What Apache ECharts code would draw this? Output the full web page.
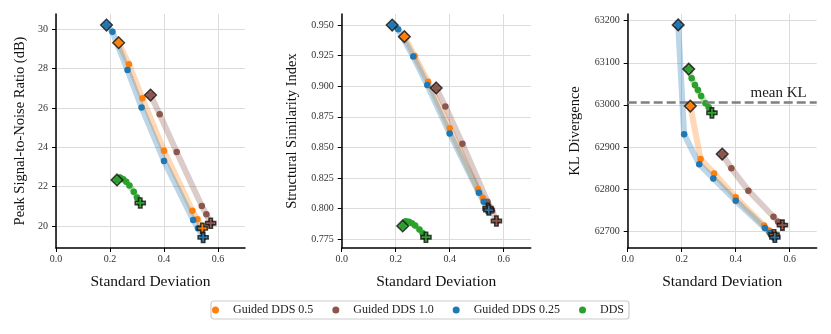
<!DOCTYPE html>
<html><head><meta charset="utf-8">
<script src="https://cdn.jsdelivr.net/npm/echarts@6/dist/echarts.min.js"></script>
<style>html,body{margin:0;padding:0;background:#fff}#c{width:831px;height:334px}</style>
</head><body><div id="c"></div>
<script>
// ---- data ----
const methods = ['Guided DDS 0.5', 'Guided DDS 1.0', 'Guided DDS 0.25', 'DDS'];
const colors = ['#ff7f0e', '#8c564b', '#1f77b4', '#2ca02c'];

const xOrange = [0.232, 0.270, 0.320, 0.400, 0.505, 0.524, 0.542];
const xBrown  = [0.350, 0.384, 0.447, 0.540, 0.557, 0.573];
const xBlue   = [0.187, 0.209, 0.265, 0.317, 0.400, 0.508, 0.526, 0.545];
const xGreen  = [0.226, 0.237, 0.249, 0.260, 0.272, 0.288, 0.300, 0.312];

const psnrOrange = [29.32, 28.22, 26.49, 23.83, 20.78, 20.34, 19.88];
const psnrBrown  = [26.66, 25.68, 23.76, 21.02, 20.59, 20.14];
const psnrBlue   = [30.22, 29.88, 27.93, 26.03, 23.31, 20.31, 19.88, 19.42];
const psnrGreen  = [22.34, 22.47, 22.38, 22.25, 22.06, 21.74, 21.45, 21.17];

const ssimOrange = [0.9405, 0.9248, 0.9037, 0.8656, 0.8158, 0.8085, 0.8003];
const ssimBrown  = [0.8986, 0.8834, 0.8530, 0.8057, 0.7984, 0.7900];
const ssimBlue   = [0.9500, 0.9465, 0.9242, 0.9010, 0.8615, 0.8131, 0.8057, 0.7989];
const ssimGreen  = [0.7859, 0.7897, 0.7893, 0.7882, 0.7862, 0.7830, 0.7800, 0.7767];

const klOrange = [62997, 62871, 62837, 62780, 62713, 62701, 62691];
const klBrown  = [62883, 62849, 62796, 62734, 62722, 62714];
const klBlue   = [63190, 62930, 62859, 62825, 62772, 62707, 62696, 62685];
const klGreen  = [63085, 63063, 63047, 63035, 63021, 63004, 62994, 62981];
const meanKL = 63007;

const xTicks = [0, 0.2, 0.4, 0.6];
const psnrTicks = [20, 22, 24, 26, 28, 30];
const ssimTicks = [0.775, 0.8, 0.825, 0.85, 0.875, 0.9, 0.925, 0.95];
const klTicks = [62700, 62800, 62900, 63000, 63100, 63200];

// ---- build ----
const FONT = '"Liberation Serif", "DejaVu Serif", serif';
const xs = [xOrange, xBrown, xBlue, xGreen];
const panels = [
  {ys: [psnrOrange, psnrBrown, psnrBlue, psnrGreen], name: 'Peak Signal-to-Noise Ratio (dB)', min: 18.88, max: 30.78, ticks: psnrTicks, fmt: v => String(v), gap: 28, left: 56},
  {ys: [ssimOrange, ssimBrown, ssimBlue, ssimGreen], name: 'Structural Similarity Index', min: 0.7679, max: 0.959, ticks: ssimTicks, fmt: v => v.toFixed(3), gap: 42, left: 341.7},
  {ys: [klOrange, klBrown, klBlue, klGreen], name: 'KL Divergence', min: 62659.6, max: 63216, ticks: klTicks, fmt: v => String(v), gap: 45, left: 627.7}
];
const plusPath = 'path://M1,0H2V1H3V2H2V3H1V2H0V1H1Z';

const grids = [], xAxes = [], yAxes = [], series = [];
panels.forEach((p, i) => {
  grids.push({left: p.left, top: 14, width: 189, height: 234});
  xAxes.push({
    type: 'value', gridIndex: i, min: 0, max: 0.7,
    name: 'Standard Deviation', nameLocation: 'middle', nameGap: 26,
    nameTextStyle: {fontFamily: FONT, fontSize: 15.5, color: '#111'},
    axisLine: {show: true, lineStyle: {color: '#000', width: 1.5}},
    axisTick: {show: true, length: 4, customValues: xTicks, lineStyle: {color: '#000', width: 1}},
    axisLabel: {customValues: xTicks, formatter: v => v.toFixed(1), fontFamily: FONT, fontSize: 10, color: '#333', margin: 6},
    splitLine: {show: true, lineStyle: {color: '#dcdcdc', width: 1}}
  });
  yAxes.push({
    type: 'value', gridIndex: i, min: p.min, max: p.max,
    name: p.name, nameLocation: 'middle', nameGap: p.gap, nameRotate: 90,
    nameTextStyle: {fontFamily: FONT, fontSize: 14.5, color: '#111'},
    axisLine: {show: true, lineStyle: {color: '#000', width: 1.5}},
    axisTick: {show: true, length: 4, customValues: p.ticks, lineStyle: {color: '#000', width: 1}},
    axisLabel: {customValues: p.ticks, formatter: p.fmt, fontFamily: FONT, fontSize: 10, color: '#333', margin: 8},
    splitLine: {show: true, lineStyle: {color: '#dcdcdc', width: 1}}
  });
  methods.forEach((m, k) => {
    const data = xs[k].map((x, j) => [x, p.ys[k][j]]);
    const s = {
      type: 'line', name: m, xAxisIndex: i, yAxisIndex: i,
      data: data, symbol: 'circle', symbolSize: 6.5, showSymbol: true,
      color: colors[k],
      itemStyle: {color: colors[k]},
      lineStyle: {color: colors[k], width: 6, opacity: 0.3, cap: 'round', join: 'round'},
      emphasis: {disabled: true}, animation: false, z: 2
    };
    if (i === 2 && k === 3) {
      s.markLine = {
        silent: true, symbol: 'none', animation: false,
        lineStyle: {type: [9, 4], color: '#808080', width: 2.5},
        label: {show: true, position: 'insideEndTop', formatter: 'mean KL', fontFamily: FONT, fontSize: 15, color: '#222', distance: [10, 1]},
        data: [{yAxis: meanKL}]
      };
    }
    series.push(s);
  });
  methods.forEach((m, k) => {
    const n = xs[k].length;
    series.push({
      type: 'scatter', name: m + ' markers', xAxisIndex: i, yAxisIndex: i, z: 5, animation: false,
      emphasis: {disabled: true},
      data: [
        {value: [xs[k][0], p.ys[k][0]], symbol: 'diamond', symbolSize: 11.5},
        {value: [xs[k][n - 1], p.ys[k][n - 1]], symbol: plusPath, symbolSize: 10}
      ],
      itemStyle: {color: colors[k], borderColor: '#111', borderWidth: 1.6}
    });
  });
});

const chart = echarts.init(document.getElementById('c'), null, {renderer: 'canvas'});
chart.setOption({
  animation: false,
  backgroundColor: '#fff',
  grid: grids, xAxis: xAxes, yAxis: yAxes, series: series,
  legend: {
    data: methods, icon: 'circle', itemWidth: 25, itemHeight: 7, itemGap: 19,
    left: 211, top: 301, padding: [3, 5, 3, 1],
    borderColor: '#cccccc', borderWidth: 1.2, borderRadius: 3,
    textStyle: {fontFamily: FONT, fontSize: 12, color: '#222'}
  }
});
</script></body></html>
